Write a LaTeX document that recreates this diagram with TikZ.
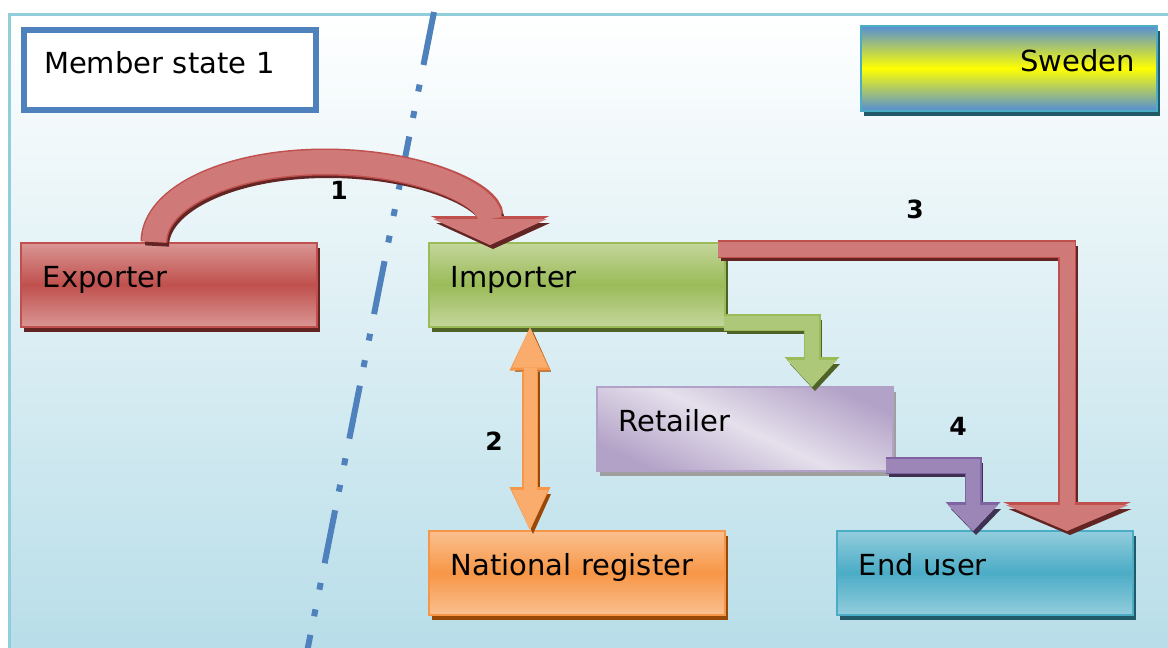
\documentclass[tikz,border=0pt]{standalone}
\usepackage{fontspec}
\setmainfont{DejaVu Sans}
\usepackage{tikz}
\usetikzlibrary{arrows.meta,calc,shadows}

\definecolor{bgblue}{HTML}{B7DDE8}
\definecolor{framecol}{HTML}{92CDDC}
\definecolor{msblue}{HTML}{4F81BD}
\definecolor{redlight}{HTML}{D99694}
\definecolor{redmid}{HTML}{C0504D}
\definecolor{redline}{HTML}{C0504D}
\definecolor{reddark}{HTML}{632523}
\definecolor{redfill}{HTML}{CF7A78}
\definecolor{greenlight}{HTML}{C3D69B}
\definecolor{greenmid}{HTML}{9BBB59}
\definecolor{greenline}{HTML}{9BBB59}
\definecolor{greendark}{HTML}{4F6228}
\definecolor{greenfill}{HTML}{ADC878}
\definecolor{orangelight}{HTML}{FAC090}
\definecolor{orangemid}{HTML}{F79646}
\definecolor{orangeline}{HTML}{F79646}
\definecolor{orangedark}{HTML}{984807}
\definecolor{orangefill}{HTML}{F9AC6C}
\definecolor{aqualight}{HTML}{93CDDD}
\definecolor{aquamid}{HTML}{4BACC6}
\definecolor{aqualine}{HTML}{4BACC6}
\definecolor{aquadark}{HTML}{215968}
\definecolor{purplelight}{HTML}{E5E0EC}
\definecolor{purplemid}{HTML}{B3A2C7}
\definecolor{purpleline}{HTML}{8064A2}
\definecolor{purpledark}{HTML}{3F3151}
\definecolor{purplefill}{HTML}{9C86B8}
\definecolor{swblue}{HTML}{558ED5}

\tikzset{
  actor/.style={rectangle, draw=#1line, line width=1.5pt, anchor=north west,
    top color=#1light, bottom color=#1light, middle color=#1mid,
    minimum width=296pt, minimum height=84pt, text width=252pt, inner xsep=22pt,
    align=left, text height=20pt, text depth=14pt, font=\fontsize{29}{34}\selectfont,
    drop shadow={fill=#1dark, opacity=1, shadow xshift=3pt, shadow yshift=-5pt}},
  number/.style={font=\fontsize{25}{28}\selectfont\bfseries},
  onehead/.style 2 args={-{Triangle[width=#1,length=#2,line width=0pt]}},
  twohead/.style 2 args={{Triangle[width=#1,length=#2,line width=0pt]}-{Triangle[width=#1,length=#2,line width=0pt]}}
}

% fat block arrow: colour, tips, shaft, tip width, tip length, path
\newcommand{\fatarrow}[6]{%
  \pgfmathsetmacro{\shaftb}{#3+3}\pgfmathsetmacro{\tipwb}{#4+5}\pgfmathsetmacro{\tiplb}{#5+3}%
  \draw[draw=#1dark, line width=#3pt, #2={#4pt}{#5pt}, transform canvas={xshift=3pt,yshift=-4pt}] #6;
  \draw[draw=#1line, line width=\shaftb pt, #2={\tipwb pt}{\tiplb pt}] #6;
  \draw[draw=#1fill, line width=#3pt, #2={#4pt}{#5pt}] #6;
}

\begin{document}
\begin{tikzpicture}[x=1pt, y=-1pt]
        \useasboundingbox (0,0) rectangle (1168,648);
        \clip (0,0) rectangle (1168,648);
        \fill[white] (0,0) rectangle (1168,648);

        % Background and frame
        \shade[top color=white, bottom color=bgblue] (9,14) rectangle (1180,660);
        \draw[framecol, line width=3pt] (9,660) -- (9,14) -- (1180,14);

        % Member states
        \node[rectangle, draw=msblue, line width=6pt, fill=white, anchor=north west, minimum width=292pt, minimum height=80pt,
              text width=252pt, inner xsep=20pt, align=left, text height=20pt, text depth=14pt,
              font=\fontsize{29}{34}\selectfont] (member) at (21,27) {Member state 1};
        \node[rectangle, draw=aqualine, line width=1.5pt, anchor=north west, top color=swblue, bottom color=swblue, middle color=yellow,
              minimum width=296pt, minimum height=85pt, text width=252pt, inner xsep=21pt, align=right,
              text height=20pt, text depth=14pt, font=\fontsize{29}{34}\selectfont,
              drop shadow={fill=aquadark, opacity=1, shadow xshift=3pt, shadow yshift=-5pt}] (sweden) at (860,25) {Sweden};

        % Border line
        \draw[msblue, line width=6pt, dash pattern=on 54pt off 20pt on 7pt off 20pt on 7pt off 19pt] (434,12) -- (307,652);

        % Actors
        \node[actor=red] (exporter) at (20,242) {Exporter};
        \node[actor=green] (importer) at (428,242) {Importer};
        \node[actor=purple, draw=purplemid, top color=purplemid, bottom color=purplemid, middle color=purplelight, shading angle=-25,
              drop shadow={fill=gray!75, opacity=1, shadow xshift=3pt, shadow yshift=-5pt}] (retailer) at (596,386) {Retailer};
        \node[actor=orange] (natreg) at (428,530) {National register};
        \node[actor=aqua] (enduser) at (836,530) {End user};

        % Arrows
        \fatarrow{red}{onehead}{24}{114}{26}{($(exporter.north west)+(134,0)$) .. controls +(0,-45) and +(-95,0) .. (325,162) .. controls +(95,0) and +(0,-50) .. ($(importer.north west)+(62,3)$)}
        \fatarrow{orange}{twohead}{13}{36}{40}{($(importer.south west)+(102,0)$) -- ($(natreg.north west)+(102,0)$)}
        \fatarrow{red}{onehead}{15}{123}{26}{($(importer.north east)+(-8,7)$) -| ($(enduser.north west)+(231,1)$)}
        \fatarrow{green}{onehead}{14}{50}{27}{($(importer.south east)+(-2,-5)$) -| ($(retailer.north west)+(216,1)$)}
        \fatarrow{purple}{onehead}{14}{50}{26}{($(retailer.south east)+(-8,-6)$) -| ($(enduser.north west)+(137,1)$)}

        % Labels
        \node[number] (n1) at (339,190) {1};
        \node[number] (n2) at (494,441) {2};
        \node[number] (n3) at (915,209) {3};
        \node[number] (n4) at (958,426) {4};
\end{tikzpicture}
\end{document}
